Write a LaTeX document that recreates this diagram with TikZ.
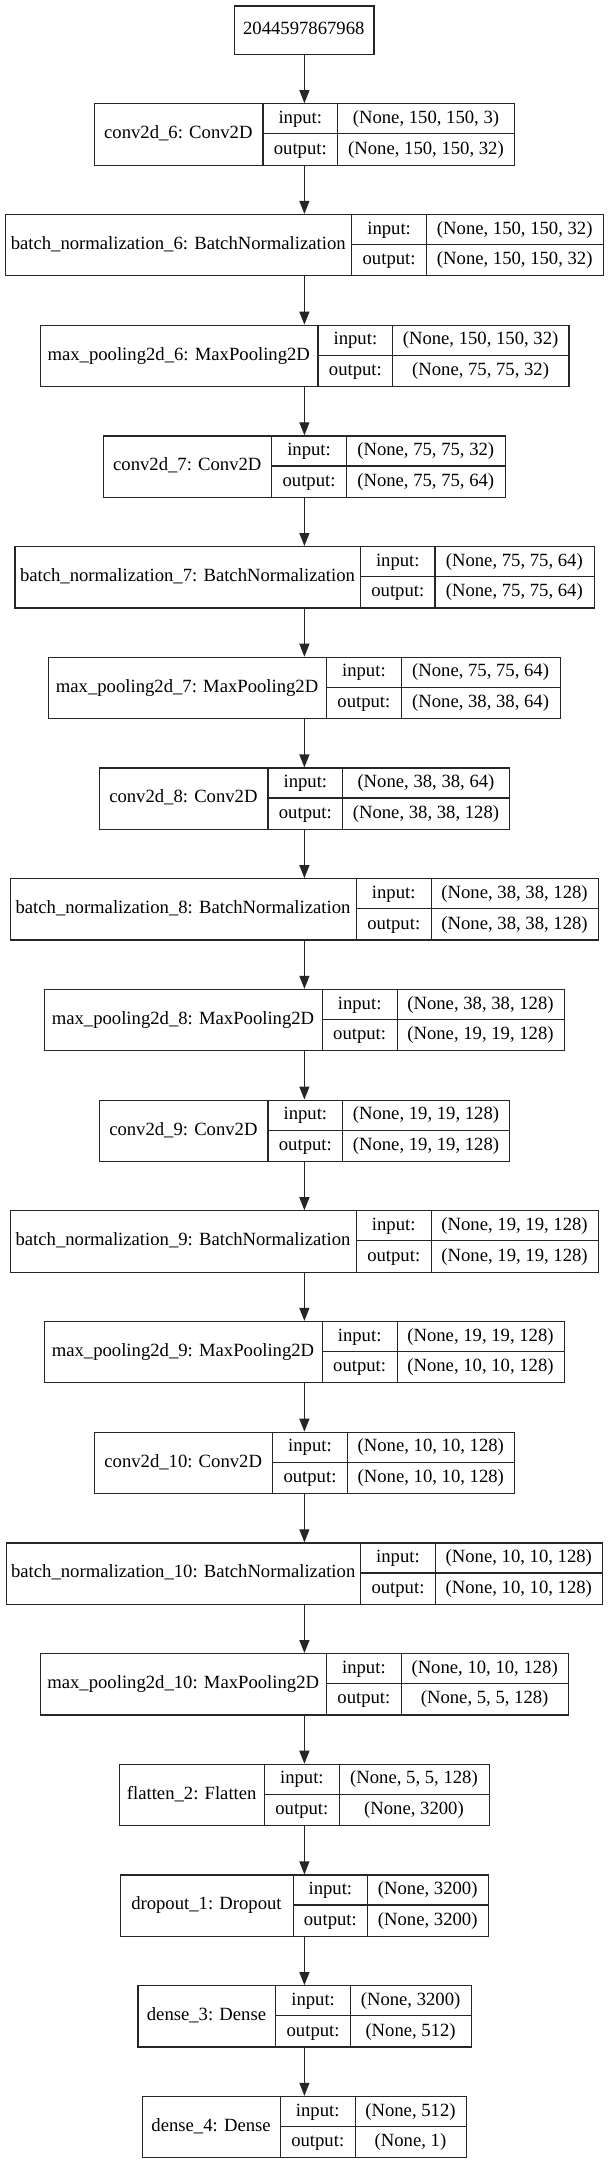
\documentclass[tikz,border=0pt]{standalone}
\usepackage{fontspec}
\setmainfont{Liberation Serif}
\usetikzlibrary{arrows.meta}
\tikzset{
  x=0.75pt, y=-0.75pt,
  box/.style={draw=black!85, line width=0.9pt, inner sep=0pt, fill=white},
  cell/.style={draw=black!85, line width=0.9pt},
  txt/.style={inner sep=0pt, anchor=base, font=\fontsize{14pt}{16.8pt}\selectfont, text=black},
  arr/.style={draw=black!85, line width=0.9pt, -{Triangle[length=9.75pt,width=7.5pt]}}
}
% #1 id, #2 top y, #3 x0, #4 x1, #5 x2, #6 x3, #7 name, #8 input shape, #9 output shape
\newcommand{\layerbox}[9]{%
  \node[box, anchor=north west, minimum width={(#6-#3)*0.75pt}, minimum height={61.3*0.75pt}] (#1) at (#3,#2) {};
  \draw[cell] (#4,#2) -- (#4,{#2+61.3});
  \draw[cell] (#5,#2) -- (#5,{#2+61.3});
  \draw[cell] (#4,{#2+30.65}) -- (#6,{#2+30.65});
  \node[txt] (#1-name) at ({(#3+#4)/2},{#2+35.55}) {#7};
  \node[txt] (#1-inl) at ({(#4+#5)/2},{#2+20.2}) {input:};
  \node[txt] (#1-outl) at ({(#4+#5)/2},{#2+50.9}) {output:};
  \node[txt] (#1-inv) at ({(#5+#6)/2},{#2+20.2}) {#8};
  \node[txt] (#1-outv) at ({(#5+#6)/2},{#2+50.9}) {#9};
}
\begin{document}
\begin{tikzpicture}
\useasboundingbox (0,0) rectangle (608,2163);
\fill[white] (0,0) rectangle (608,2163);
\node[box, anchor=north west, minimum width={(373.4-234.2)*0.75pt}, minimum height={48.1*0.75pt}] (in) at (234.2,5.4) {};
\node[txt] (in-name) at (303.8,34.4) {2044597867968};

\layerbox{L0}{103.2}{93.8}{262.9}{337.7}{514.2}{conv2d\_6: Conv2D}{(None, 150, 150, 3)}{(None, 150, 150, 32)}
\layerbox{L1}{213.9}{4.7}{351.7}{426.5}{603.0}{batch\_normalization\_6: BatchNormalization}{(None, 150, 150, 32)}{(None, 150, 150, 32)}
\layerbox{L2}{324.6}{39.5}{318.0}{392.8}{568.4}{max\_pooling2d\_6: MaxPooling2D}{(None, 150, 150, 32)}{(None, 75, 75, 32)}
\layerbox{L3}{435.3}{102.8}{271.8}{346.3}{505.2}{conv2d\_7: Conv2D}{(None, 75, 75, 32)}{(None, 75, 75, 64)}
\layerbox{L4}{546.0}{14.3}{360.6}{435.0}{593.6}{batch\_normalization\_7: BatchNormalization}{(None, 75, 75, 64)}{(None, 75, 75, 64)}
\layerbox{L5}{656.7}{47.7}{326.5}{401.3}{559.9}{max\_pooling2d\_7: MaxPooling2D}{(None, 75, 75, 64)}{(None, 38, 38, 64)}
\layerbox{L6}{767.4}{98.9}{267.9}{342.8}{509.1}{conv2d\_8: Conv2D}{(None, 38, 38, 64)}{(None, 38, 38, 128)}
\layerbox{L7}{878.1}{9.7}{356.3}{431.2}{597.9}{batch\_normalization\_8: BatchNormalization}{(None, 38, 38, 128)}{(None, 38, 38, 128)}
\layerbox{L8}{988.8}{43.8}{322.2}{397.1}{563.8}{max\_pooling2d\_8: MaxPooling2D}{(None, 38, 38, 128)}{(None, 19, 19, 128)}
\layerbox{L9}{1099.5}{98.9}{267.9}{342.8}{509.1}{conv2d\_9: Conv2D}{(None, 19, 19, 128)}{(None, 19, 19, 128)}
\layerbox{L10}{1210.2}{9.7}{356.3}{431.2}{597.9}{batch\_normalization\_9: BatchNormalization}{(None, 19, 19, 128)}{(None, 19, 19, 128)}
\layerbox{L11}{1320.9}{43.8}{322.2}{397.1}{563.8}{max\_pooling2d\_9: MaxPooling2D}{(None, 19, 19, 128)}{(None, 10, 10, 128)}
\layerbox{L12}{1431.6}{93.8}{272.6}{347.4}{514.2}{conv2d\_10: Conv2D}{(None, 10, 10, 128)}{(None, 10, 10, 128)}
\layerbox{L13}{1542.3}{5.8}{360.6}{435.4}{602.2}{batch\_normalization\_10: BatchNormalization}{(None, 10, 10, 128)}{(None, 10, 10, 128)}
\layerbox{L14}{1653.0}{39.9}{326.5}{401.3}{568.0}{max\_pooling2d\_10: MaxPooling2D}{(None, 10, 10, 128)}{(None, 5, 5, 128)}
\layerbox{L15}{1763.7}{119.0}{264.4}{339.3}{488.6}{flatten\_2: Flatten}{(None, 5, 5, 128)}{(None, 3200)}
\layerbox{L16}{1874.4}{119.8}{293.1}{367.6}{487.8}{dropout\_1: Dropout}{(None, 3200)}{(None, 3200)}
\layerbox{L17}{1985.1}{137.3}{275.7}{350.5}{470.7}{dense\_3: Dense}{(None, 3200)}{(None, 512)}
\layerbox{L18}{2095.8}{141.9}{280.3}{355.2}{465.7}{dense\_4: Dense}{(None, 512)}{(None, 1)}

\coordinate (ax) at (304.4,0);
\draw[arr] (in.south -| ax) -- (L0.north -| ax);
\foreach \a/\b in {L0/L1,L1/L2,L2/L3,L3/L4,L4/L5,L5/L6,L6/L7,L7/L8,L8/L9,L9/L10,L10/L11,L11/L12,L12/L13,L13/L14,L14/L15,L15/L16,L16/L17,L17/L18}
  \draw[arr] (\a.south -| ax) -- (\b.north -| ax);
\end{tikzpicture}
\end{document}
